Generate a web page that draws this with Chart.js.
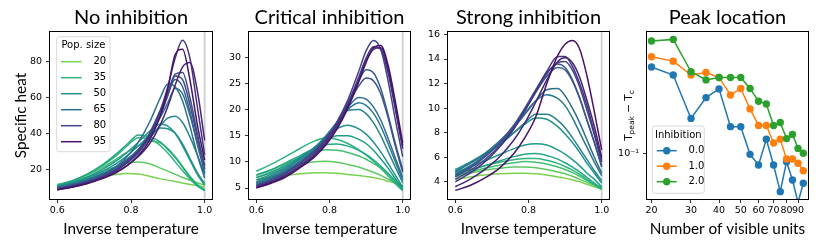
<!DOCTYPE html>
<html><head><meta charset="utf-8">
<script src="https://cdn.jsdelivr.net/npm/chart.js@4.4.1/dist/chart.umd.min.js"></script>
<style>
html,body{margin:0;padding:0;background:#fff;}
#wrap{position:relative;width:830px;height:249px;overflow:hidden;}
#wrap canvas{position:absolute;left:0;top:0;}
</style></head><body>
<div id="wrap">
<canvas id="c1" width="830" height="249"></canvas>
<canvas id="c2" width="830" height="249"></canvas>
<canvas id="c3" width="830" height="249"></canvas>
<canvas id="c4" width="830" height="249"></canvas>
</div>
<script>
// ---------------- DATA ----------------
const POP_SIZES = [20,25,30,35,40,45,50,55,60,65,70,75,80,85,90,95];
const LEGEND_SIZES = [20,35,50,65,80,95];
const INV_TEMP = [0.60,0.64,0.68,0.72,0.76,0.79,0.82,0.85,0.88,0.90,0.92,0.94,0.96,0.98,1.00];
const CRITICAL_INV_TEMP = 1.0;
const X_TICKS = [0.6,0.8,1.0];
const Y_TICKS_NO = [20,40,60,80];
const Y_TICKS_CRIT = [5,10,15,20,25,30];
const Y_TICKS_STRONG = [4,6,8,10,12,14,16];

// No inhibition: specific heat per population size
const NO_20 = [11.5,12.8,14.3,15.8,17.0,17.5,17.2,16.0,14.5,13.8,13.0,12.2,11.4,10.7,10.0];
const NO_25 = [11.2,13.0,15.5,18.5,21.5,23.3,24.0,23.0,20.5,18.8,17.0,15.3,13.8,12.3,11.0];
const NO_30 = [11.0,13.2,16.5,20.5,25.5,29.5,33.0,35.5,34.5,31.5,27.0,21.5,16.0,11.5,8.5];
const NO_35 = [11.0,13.5,17.0,21.5,27.5,33.0,37.5,37.0,33.0,29.0,24.0,19.0,14.5,10.5,8.0];
const NO_40 = [10.8,13.3,17.0,22.0,28.5,34.0,39.0,38.0,35.0,31.0,26.5,21.0,15.5,11.0,8.0];
const NO_45 = [10.5,12.5,15.5,19.5,24.5,29.5,35.0,41.0,45.0,44.0,40.0,33.0,25.0,17.0,11.0];
const NO_50 = [10.3,12.2,15.0,18.5,23.0,27.5,33.0,38.5,43.0,42.5,40.0,34.0,26.0,18.0,12.0];
const NO_55 = [10.0,11.8,14.3,17.5,21.5,25.5,30.5,37.0,44.5,48.5,49.5,46.0,38.0,28.0,17.0];
const NO_60 = [9.8,11.5,13.8,17.0,21.0,25.5,31.0,38.5,49.0,57.0,65.0,62.0,50.0,35.0,22.0];
const NO_65 = [9.5,11.3,13.5,16.8,21.5,27.0,35.0,46.0,60.0,67.5,66.0,58.0,44.0,28.0,15.0];
const NO_70 = [9.3,11.0,13.2,16.3,20.5,25.0,31.0,40.0,53.0,62.0,70.0,66.0,52.0,34.0,18.0];
const NO_75 = [9.0,10.8,13.0,16.0,20.0,24.5,30.0,39.0,52.0,63.0,73.0,74.0,60.0,40.0,20.0];
const NO_80 = [8.8,10.5,12.6,15.5,19.0,23.5,29.0,37.5,50.0,61.0,72.0,70.0,56.0,38.0,22.0];
const NO_85 = [8.7,10.3,12.4,15.3,19.5,24.0,30.0,39.0,53.0,66.0,82.0,92.0,82.0,55.0,28.0];
const NO_90 = [8.5,10.0,12.0,14.8,18.3,22.0,27.0,34.0,45.0,55.0,67.0,77.0,79.5,64.0,36.0];
const NO_95 = [8.3,9.8,11.8,14.5,18.0,22.0,27.5,36.0,50.0,65.0,84.0,87.0,70.0,45.0,25.0];

// Critical inhibition
const CR_20 = [6.6,7.0,7.4,7.7,7.9,7.9,7.8,7.6,7.4,7.2,7.0,6.7,6.3,5.9,5.4];
const CR_25 = [7.0,7.8,8.7,9.5,10.0,10.1,9.9,9.5,9.0,8.5,8.0,7.4,6.7,6.0,5.2];
const CR_30 = [7.4,8.4,9.6,10.8,11.8,12.3,12.2,11.8,11.1,10.5,9.7,8.8,7.7,6.5,5.0];
const CR_35 = [8.2,9.5,11.0,12.6,14.0,14.6,14.3,13.5,12.3,11.3,10.1,8.8,7.3,5.8,4.5];
const CR_40 = [7.5,8.5,9.8,11.2,12.6,13.3,13.4,13.0,12.2,11.4,10.4,9.2,7.8,6.2,4.6];
const CR_45 = [7.0,8.0,9.3,10.9,12.7,14.0,15.0,15.0,14.3,13.5,12.2,10.6,8.8,6.8,4.8];
const CR_50 = [6.5,7.6,9.0,10.7,12.8,14.6,16.3,17.0,16.3,15.3,13.8,11.9,9.7,7.4,5.2];
const CR_55 = [6.2,7.3,8.7,10.5,12.8,15.0,17.5,19.8,20.0,19.2,17.5,15.0,12.0,9.0,6.0];
const CR_60 = [6.0,7.0,8.4,10.2,12.5,14.8,17.4,20.0,21.3,20.8,19.3,16.8,13.5,10.0,6.5];
const CR_65 = [5.8,6.8,8.2,10.0,12.3,14.6,17.3,20.4,22.3,22.0,20.5,18.0,14.5,10.7,7.0];
const CR_70 = [5.6,6.6,8.0,9.8,12.2,14.5,17.5,21.3,25.5,27.6,27.0,24.0,19.0,13.5,8.5];
const CR_75 = [5.5,6.5,7.9,9.7,12.0,14.3,17.2,20.8,24.5,26.0,25.5,23.0,18.5,13.0,8.0];
const CR_80 = [5.4,6.4,7.8,9.6,12.0,14.4,17.6,21.8,27.3,31.2,33.2,31.5,25.5,18.0,11.0];
const CR_85 = [5.2,6.2,7.5,9.3,11.6,14.0,17.0,21.0,26.2,29.8,32.0,31.5,27.0,20.0,12.5];
const CR_90 = [5.1,6.0,7.3,9.1,11.3,13.6,16.6,20.5,25.5,29.2,31.5,31.8,27.8,20.5,13.0];
const CR_95 = [5.0,5.9,7.1,8.9,11.0,13.2,16.2,20.2,25.3,29.0,31.8,32.2,28.5,21.5,13.6];

// Strong inhibition
const ST_20 = [4.2,4.4,4.55,4.65,4.7,4.7,4.65,4.55,4.4,4.3,4.15,4.0,3.8,3.6,3.4];
const ST_25 = [4.4,4.7,4.95,5.1,5.2,5.2,5.15,5.0,4.8,4.65,4.45,4.2,3.95,3.7,3.4];
const ST_30 = [4.5,4.8,5.1,5.35,5.55,5.65,5.6,5.45,5.2,5.0,4.75,4.45,4.1,3.75,3.4];
const ST_35 = [4.7,5.0,5.3,5.6,5.8,5.9,5.9,5.75,5.5,5.25,4.95,4.6,4.2,3.8,3.4];
const ST_40 = [4.6,4.95,5.3,5.7,6.05,6.25,6.3,6.15,5.85,5.55,5.2,4.8,4.35,3.9,3.5];
const ST_45 = [4.8,5.2,5.7,6.2,6.7,7.0,7.1,7.0,6.6,6.25,5.8,5.3,4.7,4.2,3.6];
const ST_50 = [5.0,5.6,6.3,7.1,8.0,8.7,9.2,9.1,8.5,7.9,7.2,6.4,5.5,4.7,3.9];
const ST_55 = [4.9,5.5,6.2,7.0,8.0,8.8,9.5,9.5,9.0,8.4,7.6,6.7,5.8,4.9,4.1];
const ST_60 = [4.8,5.5,6.3,7.3,8.5,9.6,10.6,11.1,10.8,10.2,9.2,8.0,6.8,5.6,4.5];
const ST_65 = [4.6,5.3,6.1,7.1,8.4,9.5,10.6,11.5,11.6,11.0,10.0,8.8,7.4,6.0,4.7];
const ST_70 = [4.5,5.2,6.1,7.2,8.6,9.9,11.3,12.6,13.3,13.1,12.2,10.8,9.0,7.2,5.2];
const ST_75 = [4.4,5.1,6.0,7.1,8.6,10.0,11.5,12.9,13.6,13.3,12.3,10.8,9.0,7.2,5.3];
const ST_80 = [4.2,4.9,5.8,6.9,8.4,9.8,11.3,12.8,13.7,13.8,13.1,11.7,9.8,7.8,5.6];
const ST_85 = [4.0,4.7,5.6,6.8,8.3,9.8,11.4,13.0,14.2,14.2,13.4,12.0,10.2,8.0,5.8];
const ST_90 = [3.6,4.2,5.0,6.0,7.4,8.8,10.5,12.3,13.8,14.1,13.7,12.5,10.6,8.5,6.0];
const ST_95 = [3.3,3.7,4.3,5.1,6.3,7.6,9.3,12.0,14.3,15.2,15.5,14.8,12.6,9.7,6.6];

// Peak location (T_peak - T_c) vs number of visible units
const VISIBLE_UNITS = [20,25,30,35,40,45,50,55,60,65,70,75,80,85,90,95];
const INHIBITION = [0.0, 1.0, 2.0];
const PEAK_INH_0 = [0.277,0.252,0.151,0.193,0.214,0.137,0.137,0.0988,0.0871,0.118,0.0871,0.0636,0.0906,0.073,0.056,0.0702];
const PEAK_INH_1 = [0.313,0.297,0.252,0.260,0.245,0.199,0.215,0.169,0.139,0.139,0.113,0.118,0.0935,0.0935,0.0889,0.0814];
const PEAK_INH_2 = [0.377,0.384,0.262,0.238,0.245,0.245,0.245,0.215,0.185,0.179,0.139,0.144,0.119,0.125,0.106,0.100];
const X_TICKS_LOG = [20,30,40,50,60,70,80,90];
const Y_TICKS_LOG = [0.1];

// ---------------- STYLE ----------------
const VIRIDIS = ['#440154','#471365','#482475','#463480','#414487','#3b528b','#355f8d','#2f6c8e','#2a788e','#25848e','#21918c','#1e9c89','#22a884','#2fb47c','#44bf70','#5ec962','#7ad151','#9bd93c','#bddf26','#dfe318','#fde725'];
function popColor(n){ const i = Math.round((1 - n/100) * 20); return VIRIDIS[Math.max(0, Math.min(20, i))]; }
const TAB = ['#1f77b4','#ff7f0e','#2ca02c'];
const TICK_FONT = {family:'DejaVu Sans', size:9.5};
const AXIS_TITLE_FONT = {family:'Lato', size:15.3};
const TITLE_FONT = {family:'Lato', size:20, weight:'normal'};
const LEGEND_FONT = '10px DejaVu Sans';

Chart.defaults.font.family = 'DejaVu Sans';
Chart.defaults.color = '#000';
Chart.defaults.animation = false;

function framePlugin(critLine){
  return {
    id:'frame',
    beforeDatasetsDraw(chart){
      if (!critLine) return;
      const ca = chart.chartArea, ctx = chart.ctx;
      const x = chart.scales.x.getPixelForValue(CRITICAL_INV_TEMP);
      ctx.save();
      ctx.strokeStyle = '#cfcfcf'; ctx.lineWidth = 1.8;
      ctx.beginPath(); ctx.moveTo(x, ca.top); ctx.lineTo(x, ca.bottom); ctx.stroke();
      ctx.restore();
    },
    afterDatasetsDraw(chart){
      const ca = chart.chartArea, ctx = chart.ctx;
      ctx.save();
      ctx.strokeStyle = '#000'; ctx.lineWidth = 1;
      ctx.strokeRect(ca.left - 0.5, ca.top - 0.5, ca.right - ca.left + 1, ca.bottom - ca.top + 1);
      ctx.restore();
    }
  };
}

function legendPlugin(o){
  return {
    id:'boxLegend',
    afterDraw(chart){
      const ctx = chart.ctx;
      ctx.save();
      const r = 2.5, x = o.x, y = o.y, w = o.w, h = o.h;
      ctx.beginPath();
      ctx.moveTo(x + r, y); ctx.lineTo(x + w - r, y); ctx.arcTo(x + w, y, x + w, y + r, r);
      ctx.lineTo(x + w, y + h - r); ctx.arcTo(x + w, y + h, x + w - r, y + h, r);
      ctx.lineTo(x + r, y + h); ctx.arcTo(x, y + h, x, y + h - r, r);
      ctx.lineTo(x, y + r); ctx.arcTo(x, y, x + r, y, r); ctx.closePath();
      ctx.fillStyle = 'rgba(255,255,255,0.8)'; ctx.fill();
      ctx.strokeStyle = '#d0d0d0'; ctx.lineWidth = 0.8; ctx.stroke();
      ctx.font = o.font; ctx.fillStyle = '#000'; ctx.textBaseline = 'middle'; ctx.textAlign = 'center';
      ctx.fillText(o.title, x + w/2, o.titleY);
      o.items.forEach((it, k) => {
        const yy = o.firstY + k * o.step;
        ctx.strokeStyle = it.color; ctx.lineWidth = o.lineWidth;
        ctx.beginPath(); ctx.moveTo(o.lineX0, yy); ctx.lineTo(o.lineX1, yy); ctx.stroke();
        if (o.marker) {
          ctx.beginPath(); ctx.arc((o.lineX0 + o.lineX1)/2, yy, o.marker, 0, Math.PI*2);
          ctx.fillStyle = it.color; ctx.fill();
        }
        ctx.fillStyle = '#000'; ctx.textAlign = 'left';
        ctx.fillText(it.label, o.textX, yy);
      });
      ctx.restore();
    }
  };
}

function subTitlePlugin(cx, cy){
  return {
    id:'subTitle',
    afterDraw(chart){
      const ctx = chart.ctx;
      const segs = [['T',0],['peak',1],[' \u2212 T',0],['c',1]];
      const big = '10.5px DejaVu Sans', small = '7.5px DejaVu Sans';
      ctx.save();
      let total = 0;
      segs.forEach(s => { ctx.font = s[1] ? small : big; total += ctx.measureText(s[0]).width; });
      ctx.translate(cx, cy); ctx.rotate(-Math.PI/2);
      ctx.fillStyle = '#000'; ctx.textBaseline = 'alphabetic'; ctx.textAlign = 'left';
      let px = -total/2;
      segs.forEach(s => {
        ctx.font = s[1] ? small : big;
        ctx.fillText(s[0], px, s[1] ? 5.5 : 3.5);
        px += ctx.measureText(s[0]).width;
      });
      ctx.restore();
    }
  };
}

function baseGrid(){ return {drawOnChartArea:false, drawTicks:true, tickLength:4, tickWidth:0.8, tickColor:'#000'}; }

function heatChart(id, titleText, rows, yMin, yMax, yTicks, yTitle, boxLeft, boxRight, yWidth, legend){
  const datasets = rows.map((row, i) => ({
    label: String(POP_SIZES[i]),
    data: INV_TEMP.map((x, j) => ({x: x, y: row[j]})),
    borderColor: popColor(POP_SIZES[i]),
    backgroundColor: popColor(POP_SIZES[i]),
    borderWidth: 1.5,
    pointRadius: 0, pointHoverRadius: 0,
    cubicInterpolationMode: 'monotone',
    order: rows.length - i,
    clip: 0
  }));
  const plugins = [framePlugin(true)];
  if (legend) plugins.push(legendPlugin(legend));
  return new Chart(document.getElementById(id), {
    type:'line',
    data:{datasets},
    plugins,
    options:{
      responsive:false, devicePixelRatio:1, animation:false,
      layout:{padding:{left: boxLeft - yWidth, right: 830 - boxRight, top:0, bottom:0}},
      plugins:{
        legend:{display:false}, tooltip:{enabled:false},
        title:{display:true, text:titleText, font:TITLE_FONT, color:'#000', padding:{top:6,bottom:2}, fullSize:false}
      },
      scales:{
        x:{type:'linear', min:0.58, max:1.02,
           afterBuildTicks: s => { s.ticks = X_TICKS.map(v => ({value:v})); },
           afterFit: s => { s.height = 50; s.paddingLeft = 0; s.paddingRight = 0; },
           ticks:{callback: v => Number(v).toFixed(1), font:TICK_FONT, color:'#000', padding:2, maxRotation:0, autoSkip:false},
           grid: baseGrid(), border:{display:false},
           title:{display:true, text:'Inverse temperature', font:AXIS_TITLE_FONT, color:'#000', padding:{top:0,bottom:10.5}}},
        y:{type:'linear', min:yMin, max:yMax,
           afterBuildTicks: s => { s.ticks = yTicks.map(v => ({value:v})); },
           afterFit: s => { s.width = yWidth; s.paddingTop = 0; s.paddingBottom = 0; },
           ticks:{font:TICK_FONT, color:'#000', padding:4, autoSkip:false},
           grid: baseGrid(), border:{display:false},
           title:{display: !!yTitle, text: yTitle || '', font:AXIS_TITLE_FONT, color:'#000', padding:{top:11.5,bottom:0}}}
      }
    }
  });
}

heatChart('c1', 'No inhibition',
  [NO_20,NO_25,NO_30,NO_35,NO_40,NO_45,NO_50,NO_55,NO_60,NO_65,NO_70,NO_75,NO_80,NO_85,NO_90,NO_95],
  3.25, 96.6, Y_TICKS_NO, 'Specific heat', 50, 212, 50,
  {x:56.7, y:36.7, w:53.3, h:115, title:'Pop. size', titleY:45.5, firstY:61.7, step:16,
   lineX0:61, lineX1:81.7, lineWidth:1.5, textX:93.5, font:LEGEND_FONT,
   items: LEGEND_SIZES.map(n => ({label:String(n), color:popColor(n)}))});

heatChart('c2', 'Critical inhibition',
  [CR_20,CR_25,CR_30,CR_35,CR_40,CR_45,CR_50,CR_55,CR_60,CR_65,CR_70,CR_75,CR_80,CR_85,CR_90,CR_95],
  2.9, 34.8, Y_TICKS_CRIT, null, 249, 410, 40, null);

heatChart('c3', 'Strong inhibition',
  [ST_20,ST_25,ST_30,ST_35,ST_40,ST_45,ST_50,ST_55,ST_60,ST_65,ST_70,ST_75,ST_80,ST_85,ST_90,ST_95],
  2.6, 16.2, Y_TICKS_STRONG, null, 448, 609, 40, null);

// Peak location chart
(function(){
  const series = [PEAK_INH_0, PEAK_INH_1, PEAK_INH_2];
  const datasets = series.map((vals, i) => ({
    label: INHIBITION[i].toFixed(1),
    data: VISIBLE_UNITS.map((n, j) => ({x:n, y:vals[j]})),
    borderColor: TAB[i], backgroundColor: TAB[i],
    borderWidth: 1.5, pointRadius: 3.7, pointHoverRadius: 3.7, pointBorderWidth: 0,
    tension: 0, order: 3 - i, clip: 0
  }));
  const boxLeft = 647, boxRight = 808, yWidth = 40;
  new Chart(document.getElementById('c4'), {
    type:'line',
    data:{datasets},
    plugins:[framePlugin(false),
      legendPlugin({x:652.3, y:126, w:52, h:67.3, title:'Inhibition', titleY:135, firstY:150.7, step:15.5,
        lineX0:656.7, lineX1:676.7, lineWidth:1.5, marker:3.7, textX:688.5, font:LEGEND_FONT,
        items: INHIBITION.map((v, i) => ({label:v.toFixed(1), color:TAB[i]}))}),
      subTitlePlugin(628.5, 115.5)],
    options:{
      responsive:false, devicePixelRatio:1, animation:false,
      layout:{padding:{left: boxLeft - yWidth, right: 830 - boxRight, top:0, bottom:0}},
      plugins:{
        legend:{display:false}, tooltip:{enabled:false},
        title:{display:true, text:'Peak location', font:TITLE_FONT, color:'#000', padding:{top:6,bottom:2}, fullSize:false}
      },
      scales:{
        x:{type:'logarithmic', min:19.1, max:99.7,
           afterBuildTicks: s => { s.ticks = X_TICKS_LOG.map(v => ({value:v})); },
           afterFit: s => { s.height = 50; s.paddingLeft = 0; s.paddingRight = 0; },
           ticks:{callback: v => String(v), font:TICK_FONT, color:'#000', padding:2, maxRotation:0, autoSkip:false},
           grid: baseGrid(), border:{display:false},
           title:{display:true, text:'Number of visible units', font:AXIS_TITLE_FONT, color:'#000', padding:{top:0,bottom:10.5}}},
        y:{type:'logarithmic', min:0.0583, max:0.419,
           afterBuildTicks: s => { s.ticks = Y_TICKS_LOG.map(v => ({value:v})); },
           afterFit: s => { s.width = yWidth; s.paddingTop = 0; s.paddingBottom = 0; },
           ticks:{callback: v => '10\u207B\u00B9', font:{family:'DejaVu Sans', size:9.5}, color:'#000', padding:4, autoSkip:false},
           grid: baseGrid(), border:{display:false},
           title:{display:false}}
      }
    }
  });
})();
</script>
</body></html>
